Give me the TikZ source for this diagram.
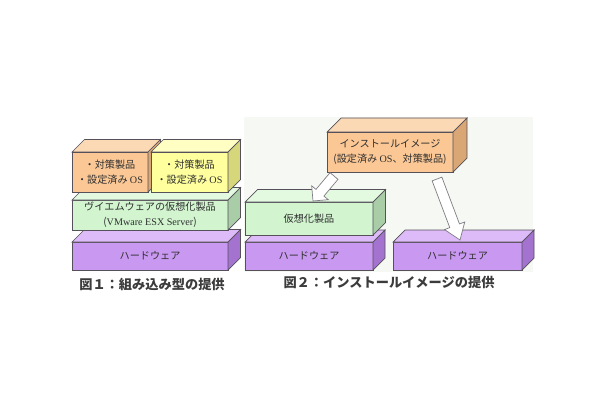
\documentclass[tikz,border=0pt]{standalone}
\usepackage{fontspec}
\setmainfont{Liberation Serif}
\newfontfamily\jp{Noto Sans CJK JP}
\usetikzlibrary{calc}
\definecolor{ink}{HTML}{2E2E2E}
\definecolor{rim}{HTML}{55505A}
\definecolor{capc}{HTML}{3C3C3C}
\definecolor{tint}{HTML}{F6F9F3}
\definecolor{orF}{HTML}{FAC795}
\definecolor{orT}{HTML}{FCD9B5}
\definecolor{orS}{HTML}{D8A775}
\definecolor{yeF}{HTML}{FFFF9E}
\definecolor{yeT}{HTML}{FFFFC4}
\definecolor{yeS}{HTML}{D6D67A}
\definecolor{grF}{HTML}{D2F5D0}
\definecolor{grT}{HTML}{E3FAE1}
\definecolor{grS}{HTML}{A9CDA6}
\definecolor{puF}{HTML}{C999F2}
\definecolor{puT}{HTML}{DDBBF8}
\definecolor{puS}{HTML}{A373CF}
\newcommand\pxu{0.025cm}
\tikzset{
  face/.style={draw=rim,line width=.5pt,inner sep=0pt,outer sep=0pt,align=center,font=\jp\fontsize{7.2}{10.5}\selectfont,text=ink},
  figcap/.style={font=\jp\bfseries\fontsize{9.4}{11}\selectfont,text=capc},
  blkarrow/.style={draw=rim!75,fill=white,line width=.5pt,line join=miter},
}
% top and side of a slab: name, top colour, side colour, depth
\newcommand\slab[4]{%
  \filldraw[draw=rim,line width=.5pt,fill=#2] (#1.north west) -- ++(#4,-#4) -- ([shift={(#4,-#4)}]#1.north east) -- (#1.north east) -- cycle;
  \filldraw[draw=rim,line width=.5pt,fill=#3] (#1.north east) -- ++(#4,-#4) -- ([shift={(#4,-#4)}]#1.south east) -- (#1.south east) -- cycle;}

\begin{document}
\begin{tikzpicture}[x=\pxu,y=-\pxu]
  \useasboundingbox (0,0) rectangle (610,400);
  \fill[tint] (244,117) rectangle (533,272);
  % figure 1
  \node[face,fill=puF,minimum width=156*\pxu,minimum height=28*\pxu] (hw1) at (150,256) {ハードウェア}; \slab{hw1}{puT}{puS}{12.5}
  \node[face,fill=grF,minimum width=156*\pxu,minimum height=30*\pxu] (vm1) at (150,215) {ヴイエムウェアの仮想化製品\\({\rmfamily VMware ESX Server})}; \slab{vm1}{grT}{grS}{12.5}
  \node[face,fill=orF,minimum width=76*\pxu,minimum height=40*\pxu] (sec1) at (110,172) {・対策製品\\・設定済み {\rmfamily OS}}; \slab{sec1}{orT}{orS}{12.5}
  \node[face,fill=yeF,minimum width=77*\pxu,minimum height=40*\pxu] (sec2) at (189.5,172) {・対策製品\\・設定済み {\rmfamily OS}}; \slab{sec2}{yeT}{yeS}{12.5}
  \node[figcap] (cap1) at (152,284) {図１：組み込み型の提供};
  % figure 2
  \node[face,fill=puF,minimum width=128*\pxu,minimum height=28*\pxu] (hw2) at (309,256) {ハードウェア}; \slab{hw2}{puT}{puS}{12}
  \node[face,fill=grF,minimum width=128*\pxu,minimum height=33*\pxu] (virt) at (309,218.5) {仮想化製品}; \slab{virt}{grT}{grS}{12.5}
  \node[face,fill=puF,minimum width=129*\pxu,minimum height=28*\pxu] (hw3) at (457.5,256) {ハードウェア}; \slab{hw3}{puT}{puS}{12}
  \node[face,fill=orF,minimum width=126*\pxu,minimum height=40*\pxu] (img) at (390,152) {インストールイメージ\\({\jp 設定済み} {\rmfamily OS}{\jp 、対策製品})}; \slab{img}{orT}{orS}{14}
  \node[figcap] (cap2) at (389,282) {図２：インストールイメージの提供};
  % block arrows
  \coordinate (t1) at ($(img.south west)+(7,4)$); \coordinate (h1) at ($(virt.north west)+(68,-1)$);
  \coordinate (t2) at ($(img.south east)+(-16,7)$); \coordinate (h2) at ($(hw3.north west)+(67,-2)$);
  \foreach \t/\h/\l in {t1/h1/0.27cm,t2/h2/0.38cm} {
    \coordinate (b) at ($(\h)!\l!(\t)$);
    \filldraw[blkarrow] ($(\t)!0.13cm!90:(\h)$) -- ($(b)!0.13cm!90:(\h)$) -- ($(b)!0.27cm!90:(\h)$) -- (\h)
      -- ($(b)!0.27cm!-90:(\h)$) -- ($(b)!0.13cm!-90:(\h)$) -- ($(\t)!0.13cm!-90:(\h)$) -- cycle;
  }
\end{tikzpicture}
\end{document}
